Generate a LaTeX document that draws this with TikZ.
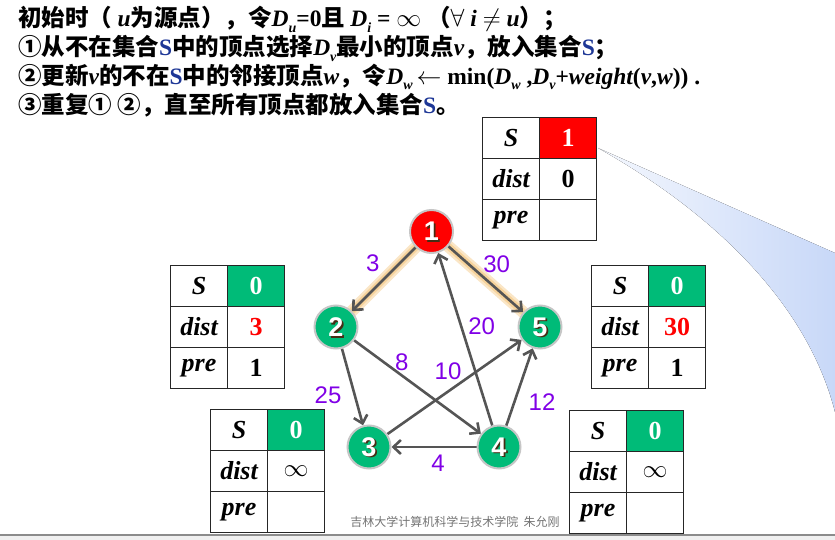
\documentclass[tikz,border=0pt]{standalone}
\usepackage{fontspec}
\setmainfont{Liberation Serif}
\newfontfamily\cjk{Noto Sans CJK SC}
\newfontfamily\lsans{Liberation Sans}
\usetikzlibrary{arrows.meta,backgrounds}
\definecolor{ngreen}{RGB}{0,187,120}
\definecolor{nred}{RGB}{255,0,0}
\definecolor{lblpurple}{RGB}{128,0,230}
\definecolor{edgegray}{RGB}{85,85,85}
\definecolor{sblue}{RGB}{30,55,150}
\definecolor{swooshblue}{RGB}{200,216,248}
\definecolor{glowor}{RGB}{245,200,130}
\definecolor{numshadow}{RGB}{70,45,20}
\newcommand\C[1]{{\cjk #1}}
\newcommand\sub[1]{\raisebox{-0.22em}{\fontsize{14}{14}\selectfont #1}}
\newcommand\dtab[7]{%
  \node[cell] (#1s) at (#2,#3) {\itshape S};
  \node[cell, fill=#4, text=white] (#1sv) at (#2+57,#3) {#5};
  \node[cell] (#1d) at (#2,#3+41) {\itshape dist};
  \node[cell] (#1dv) at (#2+57,#3+41) {#6};
  \node[cell] (#1p) at (#2,#3+82) {\itshape pre};
  \node[cell] (#1pv) at (#2+57,#3+82) {#7};
}
\begin{document}
\begin{tikzpicture}[x=1pt,y=-1pt,
  vtx/.style={circle, minimum size=43pt, inner sep=0pt, draw=gray!45, line width=2pt, fill=ngreen},
  vnum/.style={font=\lsans\bfseries\fontsize{27}{27}\selectfont, text=white, inner sep=0pt},
  vshadow/.style={font=\lsans\bfseries\fontsize{27}{27}\selectfont, text=numshadow, inner sep=0pt},
  edge/.style={draw=edgegray, line width=2.6pt, -{Straight Barb[length=7.5pt,width=14pt]}},
  glowwide/.style={draw=glowor!45, line width=12pt, line cap=round},
  glownarrow/.style={draw=glowor!80, line width=7pt, line cap=round},
  wlabel/.style={font=\lsans\fontsize{24}{24}\selectfont, text=lblpurple, inner sep=0pt},
  cell/.style={draw=black!85, line width=1.1pt, minimum width=57pt, minimum height=41pt, inner sep=0pt, anchor=north west, font=\fontsize{26}{26}\selectfont\bfseries},
  hdr/.style={anchor=base west, inner sep=0pt, font=\bfseries\fontsize{23.5}{26}\selectfont}
]
\useasboundingbox (0,0) rectangle (835,540);

% header text
\node[hdr] (h1) at (18,27) {\C{初始时（ }{\itshape u}\C{为源点），令}{\itshape D}\sub{\itshape u}=0\C{且 }{\itshape D}\sub{\itshape i} = $\infty$ \C{（}$\forall$ {\itshape i} $\neq$ {\itshape u}\C{）；}};
\node[hdr] (h2) at (18,56) {\C{①从不在集合}{\color{sblue}S}\C{中的顶点选择}{\itshape D}\sub{\itshape v}\C{最小的顶点}{\itshape v}\C{，放入集合}{\color{sblue}S}\C{；}};
\node[hdr] (h3) at (18,84.5) {\C{②更新}{\itshape v}\C{的不在}{\color{sblue}S}\C{中的邻接顶点}{\itshape w}\C{，令}{\itshape D}\sub{\itshape w}\,$\leftarrow$ min({\itshape D}\sub{\itshape w} ,{\itshape D}\sub{\itshape v}+{\itshape weight}({\itshape v},{\itshape w})) .};
\node[hdr] (h4) at (18,114) {\C{③重复① ②，直至所有顶点都放入集合}{\color{sblue}S}\C{。}};

% tables
\dtab{ta}{482}{117}{nred}{1}{0}{}
\dtab{tb}{170}{265}{ngreen}{0}{\textcolor{red}{3}}{1}
\dtab{te}{591}{265}{ngreen}{0}{\textcolor{red}{30}}{1}
\dtab{tc}{210}{409}{ngreen}{0}{\mdseries$\infty$}{}
\dtab{td}{569}{410}{ngreen}{0}{\mdseries$\infty$}{}

% vertices
\node[vtx, fill=nred] (n1) at (431.5,231.5) {};
\node[vtx] (n2) at (336,327) {};
\node[vtx] (n5) at (540,327) {};
\node[vtx] (n3) at (369,447) {};
\node[vtx] (n4) at (499,447) {};
\foreach \v in {1,2,3,4,5} {
  \node[vshadow] (s\v) at ([shift={(1.6,1.6)}]n\v.center) {\v};
  \node[vnum] (m\v) at (n\v.center) {\v};
}

% weights
\node[wlabel] (w12) at (372.7,263.5) {3};
\node[wlabel] (w15) at (496.7,264) {30};
\node[wlabel] (w41) at (481.7,326.7) {20};
\node[wlabel] (w24) at (401.7,362) {8};
\node[wlabel] (w35) at (448,371.7) {10};
\node[wlabel] (w23) at (328,395) {25};
\node[wlabel] (w45) at (542,401.7) {12};
\node[wlabel] (w43) at (438,463) {4};

% footer
\node[font=\cjk\fontsize{12}{12}\selectfont, text=black!55, inner sep=0pt] (foot) at (455,522) {吉林大学计算机科学与技术学院\ \ 朱允刚};

\begin{pgfonlayer}{background}
  \fill[left color=swooshblue!20, right color=swooshblue] (598,148) -- (835,253) -- (835,412) .. controls (806,298) and (705,208) .. (598,148) -- cycle;
  \fill[black!6] (0,535) rectangle (835,540);
  \draw[black!45, line width=1.2pt] (0,535) -- (835,535);
  \draw[glowwide] (n1) -- (n2);
  \draw[glowwide] (n1) -- (n5);
  \draw[glownarrow] (n1) -- (n2);
  \draw[glownarrow] (n1) -- (n5);
  \draw[edge] (n1) -- (n2);
  \draw[edge] (n1) -- (n5);
  \draw[edge] (n4) -- (n1);
  \draw[edge] (n2) -- (n4);
  \draw[edge] (n3) -- (n5);
  \draw[edge] (n2) -- (n3);
  \draw[edge] (n4) -- (n5);
  \draw[edge] (n4) -- (n3);
\end{pgfonlayer}
\end{tikzpicture}
\end{document}
